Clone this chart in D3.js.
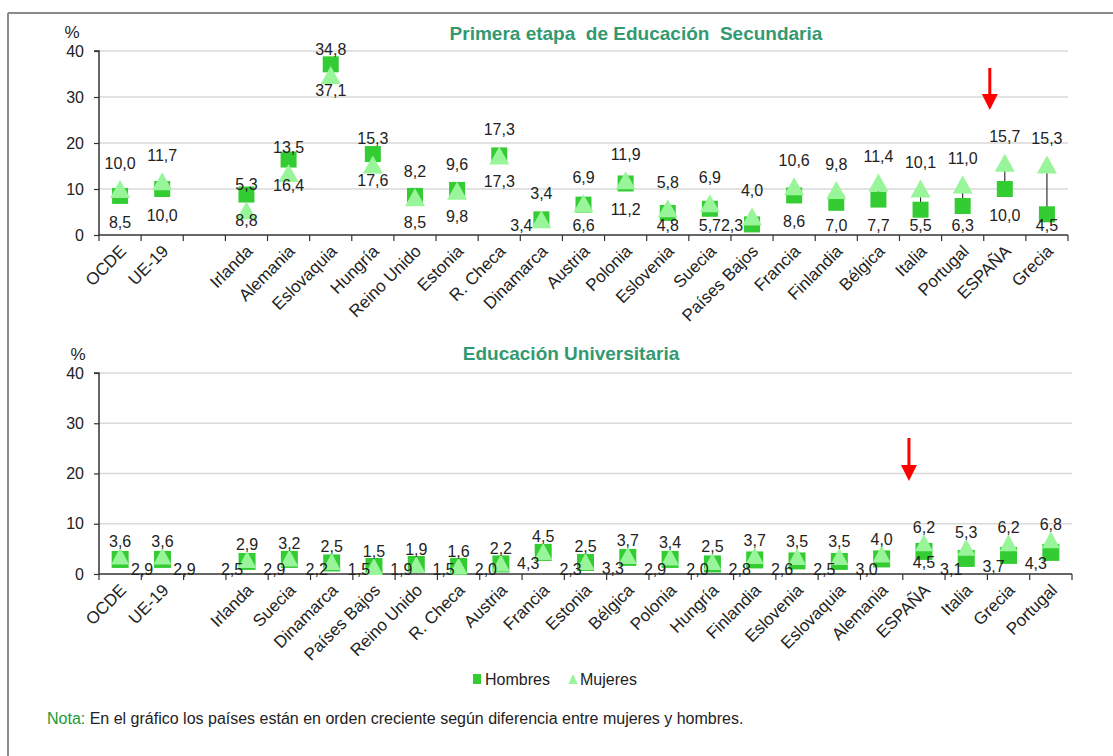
<!DOCTYPE html>
<html>
<head>
<meta charset="utf-8">
<script src="https://cdn.jsdelivr.net/npm/d3@7"></script>
<style>
  html, body { margin: 0; padding: 0; background: #fff; }
  svg { display: block; font-family: "Liberation Sans", Arial, sans-serif; }
</style>
</head>
<body>
<svg id="chart" width="1113" height="756"></svg>
<script>
// Primera etapa de Educación Secundaria (orden: diferencia mujeres - hombres)
const secCategories = ["OCDE", "UE-19", "", "Irlanda", "Alemania", "Eslovaquia", "Hungría", "Reino Unido",
  "Estonia", "R. Checa", "Dinamarca", "Austria", "Polonia", "Eslovenia", "Suecia", "Países Bajos",
  "Francia", "Finlandia", "Bélgica", "Italia", "Portugal", "ESPAÑA", "Grecia"];
const secHombres = [8.5, 10.0, null, 8.8, 16.4, 37.1, 17.6, 8.5, 9.8, 17.3, 3.4, 6.6, 11.2, 4.8, 5.7, 2.3,
  8.6, 7.0, 7.7, 5.5, 6.3, 10.0, 4.5];
const secMujeres = [10.0, 11.7, null, 5.3, 13.5, 34.8, 15.3, 8.2, 9.6, 17.3, 3.4, 6.9, 11.9, 5.8, 6.9, 4.0,
  10.6, 9.8, 11.4, 10.1, 11.0, 15.7, 15.3];

// Educación Universitaria
const uniCategories = ["OCDE", "UE-19", "", "Irlanda", "Suecia", "Dinamarca", "Países Bajos", "Reino Unido",
  "R. Checa", "Austria", "Francia", "Estonia", "Bélgica", "Polonia", "Hungría", "Finlandia", "Eslovenia",
  "Eslovaquia", "Alemania", "ESPAÑA", "Italia", "Grecia", "Portugal"];
const uniHombres = [2.9, 2.9, null, 2.5, 2.9, 2.2, 1.5, 1.9, 1.5, 2.0, 4.3, 2.3, 3.3, 2.9, 2.0, 2.8, 2.6,
  2.5, 3.0, 4.5, 3.1, 3.7, 4.3];
const uniMujeres = [3.6, 3.6, null, 2.9, 3.2, 2.5, 1.5, 1.9, 1.6, 2.2, 4.5, 2.5, 3.7, 3.4, 2.5, 3.7, 3.5,
  3.5, 4.0, 6.2, 5.3, 6.2, 6.8];

const yTicks = [0, 10, 20, 30, 40];
const seriesNames = ["Hombres", "Mujeres"];
const highlight = "ESPAÑA";

const COL_H = "#33cc33";
const COL_M = "#99f599";
const TXT = "#222";
const TITLE_COL = "#339970";

const svg = d3.select("#chart");

// page frame
svg.append("line").attr("x1", 8).attr("x2", 1113).attr("y1", 13).attr("y2", 13)
  .attr("stroke", "#8a8a8a").attr("stroke-width", 2);
svg.append("line").attr("x1", 8).attr("x2", 8).attr("y1", 13).attr("y2", 756)
  .attr("stroke", "#8a8a8a").attr("stroke-width", 2);

function fmt(v) { return v.toFixed(1).replace(".", ","); }

function trianglePath(w, h) {
  return `M0,${-h / 2}L${w / 2},${h / 2}L${-w / 2},${h / 2}Z`;
}

function panel(opt) {
  const g = svg.append("g");
  const x = d3.scaleBand().domain(opt.cats).range([opt.left, opt.right]).paddingInner(0).paddingOuter(0);
  const y = d3.scaleLinear().domain([0, 40]).range([opt.bottom, opt.top]);
  const bw = x.bandwidth();
  const cx = c => x(c) + bw / 2;

  // gridlines
  g.append("g").selectAll("line").data(yTicks.filter(t => t > 0)).join("line")
    .attr("x1", opt.left).attr("x2", opt.right)
    .attr("y1", d => y(d)).attr("y2", d => y(d))
    .attr("stroke", "#d9d9d9").attr("stroke-width", 1.3);

  // y axis
  const ya = g.append("g").attr("transform", `translate(${opt.left},0)`)
    .call(d3.axisLeft(y).tickValues(yTicks).tickSize(5).tickPadding(10).tickFormat(d3.format("d")));
  ya.select(".domain").attr("stroke", "#333").attr("stroke-width", 1.5).attr("d", `M-5,${y(40)}H0V${y(0)}`);
  ya.selectAll(".tick line").attr("stroke", "#333").attr("stroke-width", 1.2);
  ya.selectAll(".tick text").attr("font-size", 16).attr("fill", TXT).attr("font-family", "Liberation Sans, Arial, sans-serif");

  // x axis: ticks sit on category boundaries
  const xa = g.append("g").attr("transform", `translate(0,${opt.bottom})`)
    .call(d3.axisBottom(x).tickSize(0).tickFormat(""));
  xa.select(".domain").attr("stroke", "#333").attr("stroke-width", 1.5).attr("d", `M${opt.left},0H${opt.right}`);
  const bounds = opt.cats.map(c => x(c)).concat([opt.right]);
  g.append("g").selectAll("line").data(bounds).join("line")
    .attr("x1", d => d).attr("x2", d => d)
    .attr("y1", opt.bottom).attr("y2", opt.bottom + 6)
    .attr("stroke", "#333").attr("stroke-width", 1.2);

  g.append("g").selectAll("text").data(opt.cats.filter(c => c !== "")).join("text")
    .attr("transform", c => `translate(${cx(c) + 3},${opt.bottom + 13}) rotate(-45)`)
    .attr("text-anchor", "end").attr("dy", "0.35em")
    .attr("font-size", 17).attr("fill", TXT).text(c => c);

  // "%" unit
  g.append("text").attr("x", opt.pctX).attr("y", opt.pctY).attr("text-anchor", "middle")
    .attr("dy", "0.35em").attr("font-size", 17).attr("fill", TXT).text("%");

  // title
  g.append("text").attr("x", opt.titleX).attr("y", opt.titleY).attr("text-anchor", "middle")
    .attr("dy", "0.35em").attr("font-size", 19).attr("font-weight", "bold")
    .attr("fill", TITLE_COL).style("white-space", "pre").text(opt.title);

  const rows = opt.cats.map((c, i) => ({ c, i, h: opt.hom[i], m: opt.muj[i] })).filter(d => d.h != null);

  // high-low connectors
  g.append("g").selectAll("line").data(rows).join("line")
    .attr("x1", d => cx(d.c)).attr("x2", d => cx(d.c))
    .attr("y1", d => y(d.h)).attr("y2", d => y(d.m))
    .attr("stroke", "#222").attr("stroke-width", 1.1);

  // Hombres squares
  const s = opt.sq;
  g.append("g").selectAll("rect").data(rows).join("rect")
    .attr("x", d => cx(d.c) - s / 2).attr("y", d => y(d.h) - s / 2)
    .attr("width", s).attr("height", s).attr("fill", COL_H);

  // Mujeres triangles
  g.append("g").selectAll("path").data(rows).join("path")
    .attr("transform", d => `translate(${cx(d.c)},${y(d.m)})`)
    .attr("d", trianglePath(opt.triW, opt.triH)).attr("fill", COL_M);

  // value labels
  g.append("g").selectAll("text").data(rows).join("text")
    .attr("x", d => cx(d.c)).attr("y", d => y(d.m) - opt.mOff)
    .attr("text-anchor", "middle").attr("dy", "0.35em")
    .attr("font-size", 16).attr("fill", TXT).text(d => fmt(d.m));
  g.append("g").selectAll("text").data(rows).join("text")
    .attr("x", d => cx(d.c) + opt.hDx(d)).attr("y", d => opt.hY(d, y))
    .attr("text-anchor", "middle").attr("dy", "0.35em")
    .attr("font-size", 16).attr("fill", TXT).text(d => fmt(d.h));

  // arrow pointing at Spain
  const ax = cx(highlight) - 15;
  const ag = g.append("g").attr("transform", `translate(${ax},${opt.top + opt.arrowTop})`);
  ag.append("line").attr("x1", 0).attr("x2", 0).attr("y1", 0).attr("y2", opt.arrowLen - 14)
    .attr("stroke", "#ff0000").attr("stroke-width", 3);
  ag.append("path").attr("d", `M-8,${opt.arrowLen - 16}L8,${opt.arrowLen - 16}L0,${opt.arrowLen}Z`)
    .attr("fill", "#ff0000");
}

panel({
  cats: secCategories, hom: secHombres, muj: secMujeres,
  left: 99, right: 1068, top: 51, bottom: 235,
  title: "Primera etapa  de Educación  Secundaria", titleX: 636, titleY: 33,
  pctX: 72, pctY: 32,
  sq: 16, triW: 20, triH: 18, mOff: 26,
  hDx: d => d.h < 4 ? -20 : 0,
  hY: (d, y) => Math.min(y(d.h) + 26, 225),
  arrowTop: 17, arrowLen: 42
});

panel({
  cats: uniCategories, hom: uniHombres, muj: uniMujeres,
  left: 99, right: 1072, top: 373, bottom: 574,
  title: "Educación Universitaria", titleX: 571, titleY: 353,
  pctX: 78, pctY: 354,
  sq: 17, triW: 18, triH: 17, mOff: 15,
  // aggregates carry their label on the right, Spain's is centred, the rest sit to the left
  hDx: d => d.i < 2 ? 22 : (d.c === highlight ? 0 : -15),
  hY: (d, y) => Math.min(y(d.h) + 11, y(0) - 5),
  arrowTop: 65, arrowLen: 43
});

// legend
const leg = svg.append("g").attr("transform", "translate(473,679)");
leg.append("rect").attr("x", 0).attr("y", -5).attr("width", 8).attr("height", 10).attr("fill", COL_H);
leg.append("text").attr("x", 12).attr("y", 0).attr("dy", "0.35em").attr("font-size", 16).attr("fill", TXT).text(seriesNames[0]);
leg.append("path").attr("transform", "translate(100,0)").attr("d", trianglePath(9, 10)).attr("fill", COL_M);
leg.append("text").attr("x", 107).attr("y", 0).attr("dy", "0.35em").attr("font-size", 16).attr("fill", TXT).text(seriesNames[1]);

// footnote
const note = svg.append("text").attr("x", 47).attr("y", 718).attr("dy", "0.35em").attr("font-size", 16);
note.append("tspan").attr("fill", "#1a9a3a").text("Nota:");
note.append("tspan").attr("fill", TXT).text(" En el gráfico los países están en orden creciente según diferencia entre mujeres y hombres.");
</script>
</body>
</html>
